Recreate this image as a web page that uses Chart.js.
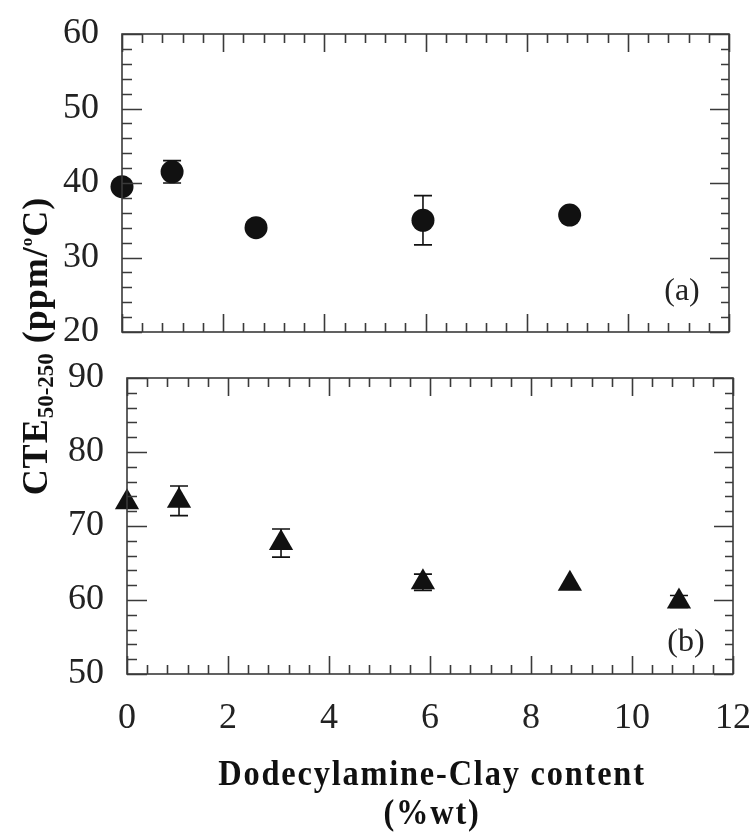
<!DOCTYPE html>
<html>
<head>
<meta charset="utf-8">
<script src="https://cdn.jsdelivr.net/npm/chart.js@4"></script>
<style>
  html, body { margin: 0; padding: 0; background: #fff; }
  #page { position: relative; width: 754px; height: 837px; overflow: hidden; }
  canvas { position: absolute; left: 0; }
  #topChart { top: 0; }
  #bottomChart { top: 360px; }
  .title { position: absolute; font-family: "Liberation Serif", serif; font-weight: bold; color: #111; white-space: nowrap; }
  #xTitle, #xUnit { left: 0; width: 960px; text-align: center; font-size: 36px; letter-spacing: 2px; transform: scaleX(0.9); transform-origin: 0 0; line-height: 40px; }
  #xTitle { top: 753px; }
  #xUnit { top: 792px; }
  #yTitle { left: 27px; top: 346px; width: 600px; margin-left: -300px; margin-top: -22px; height: 44px; line-height: 44px; text-align: center; font-size: 36px; letter-spacing: 1px; transform: rotate(-90deg); }
  #yTitle sub { font-size: 23px; vertical-align: -6px; letter-spacing: 0; }
  #yTitle sup { font-size: 17px; vertical-align: 15px; }
</style>
</head>
<body>
<div id="page">
  <canvas id="topChart" width="754" height="350"></canvas>
  <canvas id="bottomChart" width="754" height="477"></canvas>
  <div class="title" id="yTitle">CTE<sub>50-250</sub> (ppm/<sup>o</sup>C)</div>
  <div class="title" id="xTitle">Dodecylamine-Clay content</div>
  <div class="title" id="xUnit">(%wt)</div>
</div>
<script>
// panel (a): circles
const clayA = [0, 0.99, 2.65, 5.95, 8.85];
const cteA = [39.5, 41.5, 34.0, 35.0, 35.7];
const errA = [0, 1.5, 0, 3.3, 0];

// panel (b): triangles
const clayB = [0, 1.03, 3.05, 5.86, 8.77, 10.93];
const cteB = [73.2, 73.4, 67.7, 62.4, 62.2, 59.8];
const errB = [0, 2.0, 1.9, 1.1, 0, 0.8];

const xTicks = [0, 2, 4, 6, 8, 10, 12];
const yTicksA = [20, 30, 40, 50, 60];
const yTicksB = [50, 60, 70, 80, 90];

const INK = "#111";
const FRAME = "#3a3a3a";
const SERIF = "'Liberation Serif', 'Times New Roman', serif";

// error bars under the markers
const errorBars = {
  id: "errorBars",
  beforeDatasetsDraw(chart, args, opts) {
    const { ctx, scales } = chart;
    const ds = chart.data.datasets[0];
    ctx.save();
    ctx.strokeStyle = INK;
    ctx.lineWidth = 1.6;
    ds.data.forEach((p, i) => {
      const e = opts.err[i];
      if (!e) return;
      const x = scales.x.getPixelForValue(p.x);
      const y1 = scales.y.getPixelForValue(p.y + e);
      const y2 = scales.y.getPixelForValue(p.y - e);
      ctx.beginPath();
      ctx.moveTo(x, y1); ctx.lineTo(x, y2);
      ctx.moveTo(x - 9, y1); ctx.lineTo(x + 9, y1);
      ctx.moveTo(x - 9, y2); ctx.lineTo(x + 9, y2);
      ctx.stroke();
    });
    ctx.restore();
  },
};

// box frame with inward ticks on all four sides, plus the panel letter
const boxFrame = {
  id: "boxFrame",
  afterDraw(chart, args, opts) {
    const { ctx, chartArea: a, scales } = chart;
    const xs = scales.x, ys = scales.y;
    ctx.save();
    ctx.strokeStyle = FRAME;
    ctx.lineWidth = 1.6;
    ctx.strokeRect(a.left, a.top, a.right - a.left, a.bottom - a.top);
    ctx.beginPath();
    for (let v = xs.min; v <= xs.max + 1e-6; v += 0.4) {
      const major = Math.abs(v / 2 - Math.round(v / 2)) < 1e-6;
      const len = major ? 18 : 9;
      const px = Math.round(xs.getPixelForValue(v)) + 0.5;
      ctx.moveTo(px, a.top); ctx.lineTo(px, a.top + len);
      ctx.moveTo(px, a.bottom); ctx.lineTo(px, a.bottom - len);
    }
    for (let v = ys.min; v <= ys.max + 1e-6; v += 2) {
      const major = Math.abs(v / 10 - Math.round(v / 10)) < 1e-6;
      const py = Math.round(ys.getPixelForValue(v)) + 0.5;
      ctx.moveTo(a.left, py); ctx.lineTo(a.left + (major ? 20 : 10), py);
      ctx.moveTo(a.right, py); ctx.lineTo(a.right - (major ? 19 : 8), py);
    }
    ctx.stroke();
    ctx.fillStyle = "#222";
    ctx.font = "32px " + SERIF;
    ctx.textAlign = "center";
    ctx.textBaseline = "middle";
    ctx.fillText(opts.label, a.right - 47, a.bottom - opts.labelLift);
    ctx.restore();
  },
};

function makePanel(id, xs, ys, errs, yTicks, style, radius, opts) {
  return new Chart(document.getElementById(id), {
    type: "scatter",
    data: {
      datasets: [{
        data: xs.map((x, i) => ({ x, y: ys[i] })),
        pointStyle: style,
        pointRadius: radius,
        pointHoverRadius: radius,
        backgroundColor: INK,
        borderColor: INK,
        borderWidth: 0,
        clip: false,
      }],
    },
    options: {
      responsive: false,
      animation: false,
      devicePixelRatio: 1,
      layout: { padding: opts.padding },
      plugins: {
        legend: { display: false },
        tooltip: { enabled: false },
        errorBars: { err: errs },
        boxFrame: { label: opts.label, labelLift: opts.labelLift },
      },
      scales: {
        x: {
          type: "linear",
          min: xTicks[0],
          max: xTicks[xTicks.length - 1],
          display: opts.showX,
          grid: { display: false },
          border: { display: false },
          afterBuildTicks: (s) => { s.ticks = xTicks.map((v) => ({ value: v })); },
          afterFit: (s) => { s.height = opts.xHeight; s.paddingLeft = 0; s.paddingRight = 0; },
          ticks: { color: "#222", padding: 15, maxRotation: 0, font: { family: SERIF, size: 36 } },
        },
        y: {
          type: "linear",
          min: yTicks[0],
          max: yTicks[yTicks.length - 1],
          grid: { display: false },
          border: { display: false },
          afterBuildTicks: (s) => { s.ticks = yTicks.map((v) => ({ value: v })); },
          afterFit: (s) => { s.width = opts.yWidth; s.paddingTop = 0; s.paddingBottom = 0; },
          ticks: { color: "#222", padding: 15, font: { family: SERIF, size: 36 } },
        },
      },
    },
    plugins: [errorBars, boxFrame],
  });
}

makePanel("topChart", clayA, cteA, errA, yTicksA, "circle", 11.5, {
  padding: { top: 34, right: 25, bottom: 18, left: 0 },
  showX: false, xHeight: 0, yWidth: 122, label: "(a)", labelLift: 40,
});

makePanel("bottomChart", clayB, cteB, errB, yTicksB, "triangle", 14, {
  padding: { top: 18, right: 21, bottom: 0, left: 0 },
  showX: true, xHeight: 163, yWidth: 127, label: "(b)", labelLift: 31,
});
</script>
</body>
</html>
